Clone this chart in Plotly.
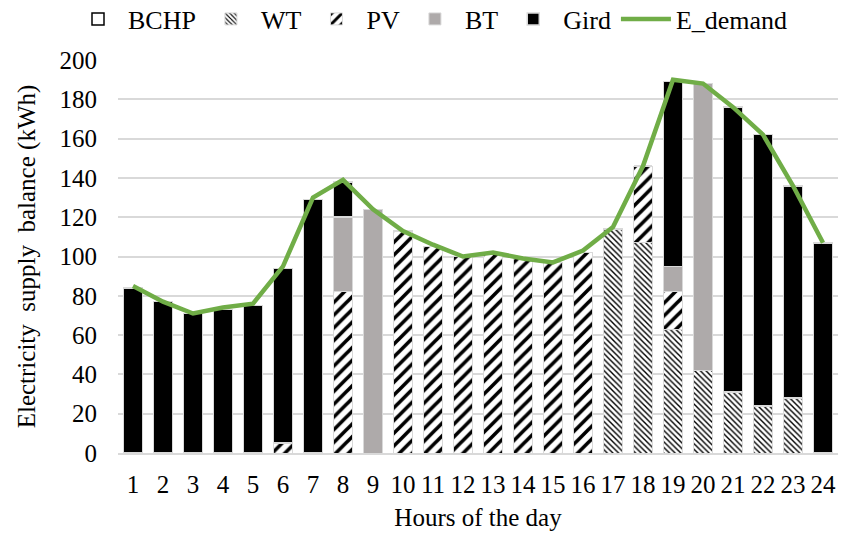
import plotly.graph_objects as go

hours = [str(h) for h in range(1, 25)]
bchp = [0] * 24
wt = [0, 0, 0, 0, 0, 0, 0, 0, 0, 0, 0, 0, 0, 0, 0, 0, 114, 107, 63, 42, 31, 24, 28, 0]
pv = [0, 0, 0, 0, 0, 5, 0, 82, 0, 113, 105, 100, 101, 99, 97, 102, 0, 39, 19, 0, 0, 0, 0, 0]
bt = [0, 0, 0, 0, 0, 0, 0, 38, 124, 0, 0, 0, 0, 0, 0, 0, 0, 0, 13, 146, 0, 0, 0, 0]
grid = [84, 77, 71, 73, 75, 89, 129, 18, 0, 0, 0, 0, 0, 0, 0, 0, 0, 0, 94, 0, 145, 138, 108, 107]
demand = [85, 77, 71, 74, 76, 95, 130, 139, 124, 113, 106, 100, 102, 99, 97, 103, 115, 146, 190, 188, 176, 162, 136, 107]

FONT = "Liberation Serif"
OUT = "#d9d9d9"
W = 0.62

fig = go.Figure()
fig.add_trace(go.Bar(x=hours, y=bchp, name="BCHP", width=W,
                     marker=dict(color="white", line=dict(color="black", width=1.5))))
fig.add_trace(go.Bar(x=hours, y=wt, name="WT", width=W,
                     marker=dict(color="white", line=dict(color=OUT, width=1),
                                 pattern=dict(shape="\\", size=4, solidity=0.35,
                                              fgcolor="black", bgcolor="white", fillmode="replace"))))
fig.add_trace(go.Bar(x=hours, y=pv, name="PV", width=W,
                     marker=dict(color="white", line=dict(color=OUT, width=1),
                                 pattern=dict(shape="/", size=9, solidity=0.4,
                                              fgcolor="black", bgcolor="white", fillmode="replace"))))
fig.add_trace(go.Bar(x=hours, y=bt, name="BT", width=W,
                     marker=dict(color="#aeaaaa", line=dict(color=OUT, width=1))))
fig.add_trace(go.Bar(x=hours, y=grid, name="Gird", width=W,
                     marker=dict(color="black", line=dict(color=OUT, width=1.5))))
fig.add_trace(go.Scatter(x=hours, y=demand, name="E_demand", mode="lines",
                         line=dict(color="#70ad47", width=4.5)))

fig.update_layout(
    barmode="stack",
    width=841, height=537,
    margin=dict(l=118, r=3, t=60, b=84),
    paper_bgcolor="white", plot_bgcolor="white",
    font=dict(family=FONT, size=25, color="black"),
    legend=dict(orientation="h", xref="container", x=68 / 841, xanchor="left",
                yref="container", y=1 - 19 / 537, yanchor="middle",
                font=dict(family=FONT, size=26), traceorder="normal",
                itemwidth=50, tracegroupgap=0),
    xaxis=dict(title=dict(text="Hours of the day", standoff=12, font=dict(size=25)),
               showline=True, linecolor=OUT, linewidth=1.5, tickfont=dict(size=25),
               ticks="", showgrid=False, ticklabelstandoff=8),
    yaxis=dict(title=dict(text="Electricity  supply  balance (kWh)", standoff=16, font=dict(size=25)),
               range=[0, 200], dtick=20, gridcolor=OUT, gridwidth=1.5,
               tickfont=dict(size=25), zeroline=False, ticks="", ticklabelstandoff=20),
    bargap=0.38,
)

fig.write_html("out.html")
